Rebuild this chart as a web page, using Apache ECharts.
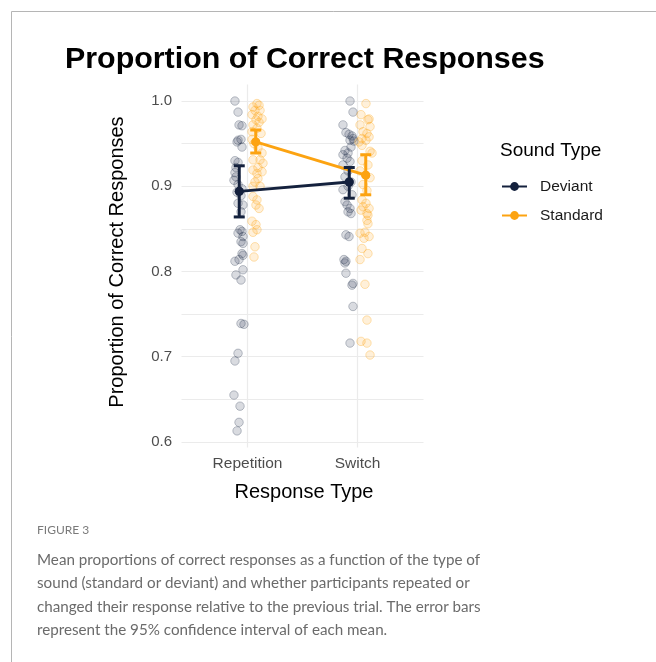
<!DOCTYPE html>
<html><head><meta charset="utf-8">
<script src="https://cdn.jsdelivr.net/npm/echarts@6/dist/echarts.min.js"></script>
<style>html,body{margin:0;padding:0;background:#fff}#c{width:656px;height:662px}</style>
</head><body><div id="c"></div>
<script>
// ---------- data ----------
const categories = ['Repetition', 'Switch'];
const soundTypes = ['Deviant', 'Standard'];
const yLabelTicks = [0.6, 0.7, 0.8, 0.9, 1.0];
const yGridTicks = [0.6, 0.65, 0.7, 0.75, 0.8, 0.85, 0.9, 0.95, 1.0];

const deviantMeans = [0.894, 0.905];
const deviantLower = [0.864, 0.886];
const deviantUpper = [0.924, 0.922];
const standardMeans = [0.952, 0.913];
const standardLower = [0.939, 0.890];
const standardUpper = [0.966, 0.937];
const dodge = 0.075;

// participant proportions (jitter = horizontal offset from category centre, in category units)
const devRepValues = [1.000,0.987,0.972,0.971,0.955,0.954,0.952,0.946,0.930,0.928,0.922,0.916,0.911,0.907,0.902,0.897,0.893,0.889,0.880,0.878,0.870,0.849,0.847,0.845,0.841,0.835,0.833,0.821,0.819,0.814,0.812,0.802,0.796,0.790,0.739,0.738,0.704,0.695,0.655,0.642,0.623,0.613];
const devRepJitter = [-0.114,-0.086,-0.077,-0.050,-0.059,-0.086,-0.095,-0.050,-0.114,-0.086,-0.105,-0.114,-0.105,-0.123,-0.086,-0.050,-0.095,-0.059,-0.086,-0.041,-0.059,-0.068,-0.050,-0.086,-0.041,-0.059,-0.041,-0.050,-0.041,-0.077,-0.114,-0.041,-0.105,-0.059,-0.059,-0.032,-0.086,-0.114,-0.123,-0.068,-0.077,-0.095];
const stdRepValues = [0.997,0.995,0.993,0.989,0.989,0.984,0.982,0.978,0.979,0.975,0.972,0.968,0.964,0.962,0.955,0.950,0.945,0.939,0.931,0.931,0.927,0.922,0.919,0.917,0.915,0.909,0.905,0.900,0.900,0.888,0.884,0.878,0.874,0.859,0.855,0.849,0.846,0.829,0.817];
const stdRepJitter = [0.086,0.105,0.050,0.068,0.114,0.041,0.095,0.077,0.132,0.105,0.050,0.086,0.041,0.123,0.041,0.059,0.095,0.132,0.114,0.050,0.141,0.095,0.050,0.132,0.086,0.095,0.068,0.114,0.050,0.050,0.086,0.077,0.105,0.041,0.077,0.086,0.050,0.068,0.059];
const devSwiValues = [1.000,0.987,0.972,0.963,0.961,0.959,0.956,0.954,0.953,0.946,0.942,0.939,0.937,0.933,0.929,0.925,0.918,0.911,0.905,0.900,0.896,0.890,0.882,0.878,0.874,0.870,0.868,0.843,0.841,0.814,0.812,0.810,0.798,0.786,0.784,0.759,0.716];
const devSwiJitter = [-0.068,-0.041,-0.132,-0.105,-0.077,-0.050,-0.041,-0.068,-0.032,-0.059,-0.114,-0.086,-0.132,-0.095,-0.068,-0.132,-0.086,-0.114,-0.059,-0.086,-0.132,-0.050,-0.114,-0.095,-0.068,-0.086,-0.059,-0.105,-0.077,-0.123,-0.105,-0.114,-0.105,-0.041,-0.050,-0.041,-0.068];
const stdSwiValues = [0.997,0.984,0.979,0.978,0.972,0.970,0.964,0.962,0.958,0.956,0.954,0.952,0.948,0.941,0.939,0.930,0.925,0.918,0.910,0.902,0.895,0.884,0.880,0.876,0.874,0.872,0.868,0.866,0.860,0.856,0.846,0.845,0.841,0.839,0.827,0.821,0.814,0.785,0.743,0.718,0.716,0.702];
const stdSwiJitter = [0.077,0.032,0.105,0.095,0.023,0.114,0.050,0.086,0.105,0.041,0.077,0.014,0.041,0.114,0.132,0.041,0.095,0.023,0.114,0.050,0.086,0.041,0.077,0.050,0.105,0.032,0.086,0.095,0.086,0.095,0.068,0.023,0.105,0.059,0.041,0.095,0.023,0.068,0.086,0.032,0.086,0.114];

const captionHead = 'FIGURE 3';
const captionLines = [
  'Mean proportions of correct responses as a function of the type of',
  'sound (standard or deviant) and whether participants repeated or',
  'changed their response relative to the previous trial. The error bars',
  'represent the 95% confidence interval of each mean.'
];

// ---------- build ----------
const NAVY = '#14213D', ORANGE = '#FCA311';
const FONT = 'Liberation Sans, Arial, sans-serif';
function pts(vals, jit, catIdx) { return vals.map((v, i) => [catIdx + 1 + jit[i], v]); }
const devPts = pts(devRepValues, devRepJitter, 0).concat(pts(devSwiValues, devSwiJitter, 1));
const stdPts = pts(stdRepValues, stdRepJitter, 0).concat(pts(stdSwiValues, stdSwiJitter, 1));
const devMean = deviantMeans.map((m, i) => [i + 1 - dodge, m]);
const stdMean = standardMeans.map((m, i) => [i + 1 + dodge, m]);
const devErr = deviantMeans.map((m, i) => [i + 1 - dodge, deviantLower[i], deviantUpper[i]]);
const stdErr = standardMeans.map((m, i) => [i + 1 + dodge, standardLower[i], standardUpper[i]]);

function errRender(color) {
  return function (params, api) {
    const x = api.value(0), lo = api.value(1), hi = api.value(2);
    const a = api.coord([x, lo]), b = api.coord([x, hi]);
    const hw = 5.5;
    const st = { stroke: color, lineWidth: 3 };
    return { type: 'group', children: [
      { type: 'line', shape: { x1: a[0], y1: a[1], x2: b[0], y2: b[1] }, style: st },
      { type: 'line', shape: { x1: a[0] - hw, y1: a[1], x2: a[0] + hw, y2: a[1] }, style: st },
      { type: 'line', shape: { x1: b[0] - hw, y1: b[1], x2: b[0] + hw, y2: b[1] }, style: st }
    ]};
  };
}

const chart = echarts.init(document.getElementById('c'), null, { renderer: 'canvas' });
const option = {
  backgroundColor: '#ffffff',
  animation: false,
  grid: { left: 181.5, right: 232.5, top: 84.4, height: 363.1, containLabel: false },
  xAxis: {
    type: 'value', min: 0.4, max: 2.6,
    axisLine: { show: false },
    axisTick: { show: false, customValues: [1, 2] },
    axisLabel: { customValues: [1, 2], formatter: v => categories[Math.round(v) - 1] || '',
      color: '#4d4d4d', fontSize: 15.5, fontFamily: FONT, margin: 8 },
    splitLine: { show: true, lineStyle: { color: '#ebebeb', width: 1.2 } }
  },
  yAxis: {
    type: 'value', min: 0.5935, max: 1.0195,
    axisLine: { show: false },
    axisTick: { show: false, customValues: yGridTicks },
    axisLabel: { customValues: yLabelTicks, formatter: v => v.toFixed(1),
      color: '#4d4d4d', fontSize: 15, fontFamily: FONT, margin: 9.5 },
    splitLine: { show: true, lineStyle: { color: '#ebebeb', width: 1.2 } }
  },
  legend: {
    data: soundTypes, orient: 'vertical', left: 501, top: 178.5,
    itemWidth: 25, itemHeight: 11, itemGap: 13, padding: 0,
    textStyle: { fontSize: 15.5, color: '#1a1a1a', fontFamily: FONT, padding: [0, 0, 0, 8] }
  },
  series: [
    { name: 'DeviantPts', type: 'scatter', data: devPts, symbol: 'circle', symbolSize: 8.5, z: 2, silent: true,
      itemStyle: { color: 'rgba(20,33,61,0.2)', borderColor: 'rgba(20,33,61,0.32)', borderWidth: 1 } },
    { name: 'StandardPts', type: 'scatter', data: stdPts, symbol: 'circle', symbolSize: 8.5, z: 2, silent: true,
      itemStyle: { color: 'rgba(252,163,17,0.2)', borderColor: 'rgba(252,163,17,0.38)', borderWidth: 1 } },
    { name: 'Deviant', type: 'line', data: devMean, symbol: 'circle', symbolSize: 9, z: 3,
      itemStyle: { color: NAVY }, lineStyle: { color: NAVY, width: 3 } },
    { name: 'Standard', type: 'line', data: stdMean, symbol: 'circle', symbolSize: 9, z: 3,
      itemStyle: { color: ORANGE }, lineStyle: { color: ORANGE, width: 3 } },
    { name: 'DeviantErr', type: 'custom', data: devErr, renderItem: errRender(NAVY), z: 4,
      encode: { x: 0, y: [1, 2] } },
    { name: 'StandardErr', type: 'custom', data: stdErr, renderItem: errRender(ORANGE), z: 4,
      encode: { x: 0, y: [1, 2] } },
    { name: 'DeviantMean', type: 'scatter', data: devMean, symbol: 'circle', symbolSize: 9, z: 5,
      itemStyle: { color: NAVY } },
    { name: 'StandardMean', type: 'scatter', data: stdMean, symbol: 'circle', symbolSize: 9, z: 5,
      itemStyle: { color: ORANGE } }
  ],
  graphic: [
    { type: 'line', shape: { x1: 11.5, y1: 11.5, x2: 656, y2: 11.5 }, style: { stroke: '#b5b5b5', lineWidth: 1 } },
    { type: 'line', shape: { x1: 11.5, y1: 11.5, x2: 11.5, y2: 662 }, style: { stroke: '#b5b5b5', lineWidth: 1 } },
    { type: 'text', x: 65, y: 60, style: { text: 'Proportion of Correct Responses', font: 'bold 30.4px ' + FONT,
      fill: '#000', textAlign: 'left', textVerticalAlign: 'middle' } },
    { type: 'text', x: 117, y: 262, rotation: Math.PI / 2, style: { text: 'Proportion of Correct Responses',
      font: '20px ' + FONT, fill: '#000', textAlign: 'center', textVerticalAlign: 'middle' } },
    { type: 'text', x: 304, y: 492, style: { text: 'Response Type', font: '20px ' + FONT,
      fill: '#000', textAlign: 'center', textVerticalAlign: 'middle' } },
    { type: 'text', x: 500, y: 151, style: { text: 'Sound Type', font: '19px ' + FONT,
      fill: '#000', textAlign: 'left', textVerticalAlign: 'middle' } },
    { type: 'text', x: 37, y: 530, style: { text: captionHead, font: '12px Lato, sans-serif',
      fill: '#7a7a7a', textAlign: 'left', textVerticalAlign: 'middle' } }
  ].concat(captionLines.map((t, i) => ({ type: 'text', x: 37, y: 560 + i * 23.5,
      style: { text: t, font: '15.2px Lato, sans-serif', fill: '#6b6b6b', textAlign: 'left', textVerticalAlign: 'middle' } })))
};
chart.setOption(option);
</script>
</body></html>
